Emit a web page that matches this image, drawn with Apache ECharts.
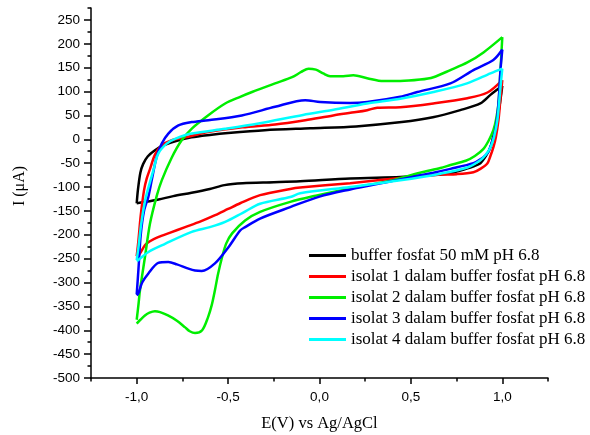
<!DOCTYPE html>
<html>
<head>
<meta charset="utf-8">
<script src="https://cdn.jsdelivr.net/npm/echarts@6/dist/echarts.min.js"></script>
<style>
  html, body { margin: 0; padding: 0; background: #fff; }
  #main { width: 590px; height: 435px; }
</style>
</head>
<body>
<div id="main"></div>
<script>
// series names (legend)
var seriesNames = [
    'buffer fosfat 50 mM pH 6.8',
    'isolat 1 dalam buffer fosfat pH 6.8',
    'isolat 2 dalam buffer fosfat pH 6.8',
    'isolat 3 dalam buffer fosfat pH 6.8',
    'isolat 4 dalam buffer fosfat pH 6.8'
];
var seriesColors = ['#000000', '#ff0000', '#00ee00', '#0000ff', '#00ffff'];

// axis ticks
var xMajorTicks = [-1.0, -0.5, 0.0, 0.5, 1.0];
var yMajorTicks = [-500, -450, -400, -350, -300, -250, -200, -150, -100, -50, 0, 50, 100, 150, 200, 250];

// [E (V), I (uA)] - forward scan (-1 -> 1) and reverse scan (1 -> -1)
var bufferFwd = [[-1.0,-134],[-0.993,-105],[-0.98,-70],[-0.965,-52],[-0.94,-36],[-0.90,-23],[-0.85,-12],[-0.78,-3],[-0.70,4],[-0.60,9],[-0.50,13],[-0.30,19],[-0.05,23],[0.20,27],[0.45,36],[0.62,46],[0.77,61],[0.88,75],[0.935,93],[1.0,112]];
var bufferRev = [[1.0,112],[0.985,70],[0.971,40],[0.95,5],[0.935,-17],[0.91,-35],[0.88,-50],[0.84,-57],[0.81,-61],[0.716,-71],[0.623,-75],[0.442,-79],[0.168,-82],[-0.106,-88],[-0.25,-90],[-0.42,-92],[-0.52,-96],[-0.60,-104],[-0.70,-112],[-0.80,-119],[-0.88,-126],[-0.95,-131],[-1.0,-134]];

var isolat1Fwd = [[-1.0,-245],[-0.99,-210],[-0.978,-160],[-0.96,-107],[-0.945,-82],[-0.927,-62],[-0.90,-32],[-0.863,-13],[-0.808,-2],[-0.735,4],[-0.61,15],[-0.423,25],[-0.243,31],[-0.078,40],[0.075,50],[0.20,57],[0.261,61],[0.316,66],[0.442,67],[0.623,75],[0.809,86],[0.919,98],[1.0,124]];
var isolat1Rev = [[1.0,124],[0.99,85],[0.979,40],[0.965,5],[0.951,-17],[0.935,-35],[0.919,-50],[0.88,-62],[0.842,-69],[0.75,-73],[0.661,-74],[0.442,-81],[0.168,-92],[-0.106,-101],[-0.16,-104],[-0.325,-117],[-0.434,-134],[-0.50,-146],[-0.571,-159],[-0.65,-172],[-0.735,-184],[-0.82,-196],[-0.883,-205],[-0.93,-214],[-0.955,-222],[-0.982,-239],[-1.0,-248]];

var isolat2Fwd = [[-1.0,-378],[-0.99,-345],[-0.982,-316],[-0.955,-247],[-0.927,-176],[-0.89,-118],[-0.863,-86],[-0.808,-38],[-0.754,-2],[-0.697,23],[-0.61,50],[-0.516,75],[-0.44,88],[-0.369,99],[-0.243,117],[-0.15,130],[-0.10,141],[-0.06,148],[-0.02,146],[0.02,138],[0.058,132],[0.13,132],[0.185,134],[0.261,128],[0.349,122],[0.442,122],[0.55,125],[0.623,130],[0.716,145],[0.809,161],[0.897,182],[1.0,214]];
var isolat2Rev = [[1.0,214],[0.99,145],[0.979,75],[0.965,40],[0.951,19],[0.925,-3],[0.897,-20],[0.85,-35],[0.80,-45],[0.716,-54],[0.661,-60],[0.55,-70],[0.387,-87],[0.25,-97],[0.114,-107],[-0.02,-118],[-0.16,-131],[-0.325,-152],[-0.407,-170],[-0.478,-197],[-0.51,-218],[-0.533,-247],[-0.555,-282],[-0.572,-316],[-0.59,-348],[-0.61,-373],[-0.642,-400],[-0.681,-406],[-0.71,-402],[-0.735,-394],[-0.78,-380],[-0.829,-369],[-0.872,-362],[-0.90,-360],[-0.93,-363],[-0.955,-369],[-0.98,-378],[-1.0,-386]];

var isolat3Fwd = [[-1.0,-325],[-0.99,-270],[-0.978,-200],[-0.96,-150],[-0.936,-120],[-0.918,-86],[-0.891,-37],[-0.863,-9],[-0.827,12],[-0.772,29],[-0.699,36],[-0.608,40],[-0.425,50],[-0.243,68],[-0.078,82],[0.004,78],[0.168,76],[0.261,78],[0.442,89],[0.535,99],[0.716,117],[0.842,145],[0.951,166],[1.0,188]];
var isolat3Rev = [[1.0,188],[0.99,145],[0.979,75],[0.962,19],[0.94,-10],[0.919,-29],[0.88,-42],[0.842,-50],[0.716,-62],[0.623,-70],[0.442,-84],[0.30,-95],[0.168,-105],[0.0,-120],[-0.16,-142],[-0.325,-166],[-0.407,-184],[-0.434,-191],[-0.498,-226],[-0.572,-260],[-0.644,-276],[-0.681,-275],[-0.717,-271],[-0.78,-262],[-0.827,-257],[-0.882,-259],[-0.936,-281],[-0.97,-300],[-0.991,-323],[-1.0,-327]];

var isolat4Fwd = [[-1.0,-253],[-0.99,-225],[-0.975,-176],[-0.955,-130],[-0.94,-107],[-0.909,-65],[-0.882,-30],[-0.836,-9],[-0.79,1],[-0.699,12],[-0.516,22],[-0.334,33],[-0.09,51],[0.077,62],[0.26,75],[0.442,85],[0.624,99],[0.807,117],[0.935,138],[1.0,148]];
var isolat4Rev = [[1.0,148],[0.99,109],[0.973,40],[0.955,5],[0.935,-17],[0.91,-32],[0.88,-44],[0.809,-59],[0.661,-72],[0.442,-86],[0.168,-100],[-0.106,-113],[-0.16,-121],[-0.325,-135],[-0.42,-154],[-0.516,-173],[-0.60,-184],[-0.699,-194],[-0.845,-219],[-0.936,-236],[-0.991,-253],[-1.0,-255]];

// each voltammogram = forward + reverse branch (same name -> one legend item)
var branches = [
    [bufferFwd, bufferRev],
    [isolat1Fwd, isolat1Rev],
    [isolat2Fwd, isolat2Rev],
    [isolat3Fwd, isolat3Rev],
    [isolat4Fwd, isolat4Rev]
];

var labelFont = 'Liberation Sans, Arial, sans-serif';
var titleFont = 'Liberation Serif, Times New Roman, serif';

var myChart = echarts.init(document.getElementById('main'));

var series = [];
for (var i = 0; i < branches.length; i++) {
    for (var j = 0; j < 2; j++) {
        series.push({
            name: seriesNames[i],
            type: 'line',
            xAxisIndex: 0,
            yAxisIndex: 0,
            data: branches[i][j],
            showSymbol: false,
            symbol: 'none',
            smooth: 0.3,
            lineStyle: { width: 2.5, color: seriesColors[i] },
            itemStyle: { color: seriesColors[i] }
        });
    }
}

var option = {
    animation: false,
    backgroundColor: '#ffffff',
    grid: { left: 91, top: 8, width: 457, height: 370, outerBoundsMode: 'none' },
    legend: {
        data: seriesNames,
        orient: 'vertical',
        left: 309,
        top: 247,
        icon: 'rect',
        itemWidth: 37,
        itemHeight: 3,
        itemGap: 4,
        padding: 0,
        textStyle: { fontFamily: titleFont, fontSize: 17, color: '#000' }
    },
    xAxis: [{
        type: 'value',
        min: -1.25,
        max: 1.25,
        position: 'bottom',
        axisLine: { onZero: false, lineStyle: { color: '#000', width: 1.5 } },
        axisTick: { customValues: xMajorTicks, length: 6, lineStyle: { color: '#000', width: 1.5 } },
        axisLabel: {
            customValues: xMajorTicks,
            margin: 12,
            color: '#000',
            fontFamily: labelFont,
            fontSize: 13.5,
            formatter: function (v) { return v.toFixed(1).replace('.', ','); }
        },
        splitLine: { show: false },
        name: 'E(V) vs Ag/AgCl',
        nameLocation: 'middle',
        nameGap: 37,
        nameTextStyle: { fontFamily: titleFont, fontSize: 16.5, color: '#000' }
    }, {
        type: 'value',
        min: -1.25,
        max: 1.25,
        interval: 0.25,
        position: 'bottom',
        axisLine: { show: false, onZero: false },
        axisTick: { length: 3.5, lineStyle: { color: '#000', width: 1.5 } },
        axisLabel: { show: false },
        splitLine: { show: false }
    }],
    yAxis: [{
        type: 'value',
        min: -500,
        max: 275,
        interval: 50,
        position: 'left',
        axisLine: { onZero: false, lineStyle: { color: '#000', width: 1.5 } },
        axisTick: { customValues: yMajorTicks, length: 7, lineStyle: { color: '#000', width: 1.5 } },
        axisLabel: {
            customValues: yMajorTicks,
            margin: 11,
            color: '#000',
            fontFamily: labelFont,
            fontSize: 13.5
        },
        splitLine: { show: false },
        name: 'I (\u03bcA)',
        nameLocation: 'middle',
        nameGap: 63,
        nameTextStyle: { fontFamily: titleFont, fontSize: 16, color: '#000', padding: [0, 0, 0, 14] }
    }, {
        type: 'value',
        min: -500,
        max: 275,
        interval: 25,
        position: 'left',
        axisLine: { show: false, onZero: false },
        axisTick: { length: 3.5, lineStyle: { color: '#000', width: 1.5 } },
        axisLabel: { show: false },
        splitLine: { show: false }
    }],
    series: series
};
myChart.setOption(option);
</script>
</body>
</html>
